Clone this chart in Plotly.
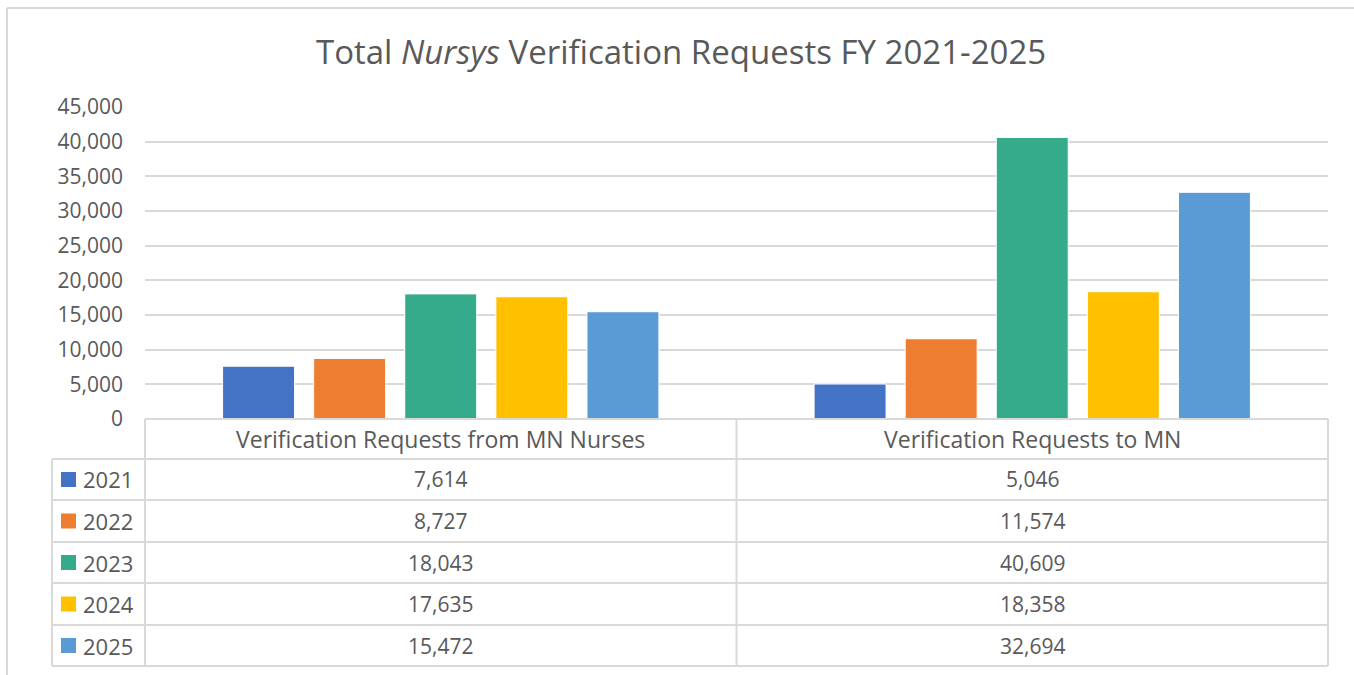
import plotly.graph_objects as go

# ---- data ----
categories = ["Verification Requests from MN Nurses", "Verification Requests to MN"]
years = ["2021", "2022", "2023", "2024", "2025"]
v2021 = [7614, 5046]
v2022 = [8727, 11574]
v2023 = [18043, 40609]
v2024 = [17635, 18358]
v2025 = [15472, 32694]
series = [v2021, v2022, v2023, v2024, v2025]
colors = ["#4472C4", "#ED7D31", "#35AB8C", "#FFC000", "#5B9BD5"]
y_ticks = list(range(0, 45001, 5000))

W, H = 1354, 675
FONT = "Open Sans"
TXT = "#595959"
GRID = "#D9D9D9"


def px(x):
    return x / W


def py(y):
    return 1 - y / H


# layout geometry (pixels)
plot_l, plot_r = 145, 1328
plot_t, plot_b = 107, 419
tab_left = 52
row_lines = [459, 500, 542, 583, 625, 666]
col_mid = (plot_l + plot_r) / 2

fig = go.Figure()
for yr, vals, c in zip(years, series, colors):
    fig.add_trace(go.Bar(
        x=categories, y=vals, name=yr,
        marker=dict(color=c, line=dict(color="white", width=1)),
        showlegend=False,
    ))

shapes = []
# outer chart border
shapes.append(dict(type="line", xref="paper", yref="paper", x0=px(7), x1=px(1360), y0=py(8), y1=py(8),
                   line=dict(color=GRID, width=2)))
shapes.append(dict(type="line", xref="paper", yref="paper", x0=px(7), x1=px(7), y0=py(8), y1=py(700),
                   line=dict(color=GRID, width=2)))

lc = dict(color=GRID, width=2)
# header row top (axis line)
shapes.append(dict(type="line", xref="paper", yref="paper", x0=px(plot_l), x1=px(plot_r),
                   y0=py(plot_b), y1=py(plot_b), line=lc))
# horizontal row lines
for ry in row_lines:
    shapes.append(dict(type="line", xref="paper", yref="paper", x0=px(tab_left), x1=px(plot_r),
                       y0=py(ry), y1=py(ry), line=lc))
# vertical lines
shapes.append(dict(type="line", xref="paper", yref="paper", x0=px(tab_left), x1=px(tab_left),
                   y0=py(row_lines[0]), y1=py(row_lines[-1]), line=lc))
for vx in [plot_l, col_mid, plot_r]:
    shapes.append(dict(type="line", xref="paper", yref="paper", x0=px(vx), x1=px(vx),
                       y0=py(plot_b), y1=py(row_lines[-1]), line=lc))

annotations = []
# category headers
col_centers = [(plot_l + col_mid) / 2, (col_mid + plot_r) / 2]
for cat, cx in zip(categories, col_centers):
    annotations.append(dict(xref="paper", yref="paper", x=px(cx), y=py((plot_b + row_lines[0]) / 2),
                            text=cat, showarrow=False, xanchor="center", yanchor="middle",
                            font=dict(family=FONT, size=23, color=TXT)))
# rows
for i, (yr, vals, c) in enumerate(zip(years, series, colors)):
    yc = (row_lines[i] + row_lines[i + 1]) / 2
    shapes.append(dict(type="rect", xref="paper", yref="paper", x0=px(61), x1=px(76),
                       y0=py(yc - 7.5), y1=py(yc + 7.5), fillcolor=c, line=dict(width=0)))
    annotations.append(dict(xref="paper", yref="paper", x=px(81), y=py(yc), text=yr, showarrow=False,
                            xanchor="left", yanchor="middle", font=dict(family=FONT, size=22, color=TXT)))
    for v, cx in zip(vals, col_centers):
        annotations.append(dict(xref="paper", yref="paper", x=px(cx), y=py(yc), text=f"{v:,}",
                                showarrow=False, xanchor="center", yanchor="middle",
                                font=dict(family=FONT, size=21, color=TXT)))

fig.update_layout(
    width=W, height=H,
    margin=dict(l=0, r=0, t=0, b=0, autoexpand=False),
    paper_bgcolor="white", plot_bgcolor="white",
    title=dict(text="Total <i>Nursys</i> Verification Requests FY 2021-2025", x=0.503, y=py(52),
               xanchor="center", yanchor="middle", font=dict(family=FONT, size=33, color=TXT)),
    barmode="group", bargap=0.23, bargroupgap=0.21,
    xaxis=dict(domain=[px(plot_l), px(plot_r)], showticklabels=False, showgrid=False,
               showline=False, zeroline=False, ticks=""),
    yaxis=dict(domain=[py(plot_b), py(plot_t)], range=[0, 45000], tickvals=y_ticks,
               tickformat=",d", showgrid=True, gridcolor=GRID, gridwidth=1.5, zeroline=False,
               showline=False, ticks="", ticklabelstandoff=21,
               tickfont=dict(family=FONT, size=21, color=TXT)),
    shapes=shapes, annotations=annotations,
)

fig.write_html("out.html", config={"displayModeBar": False},
               post_script="document.body.style.margin='0';document.body.style.overflow='hidden';")
